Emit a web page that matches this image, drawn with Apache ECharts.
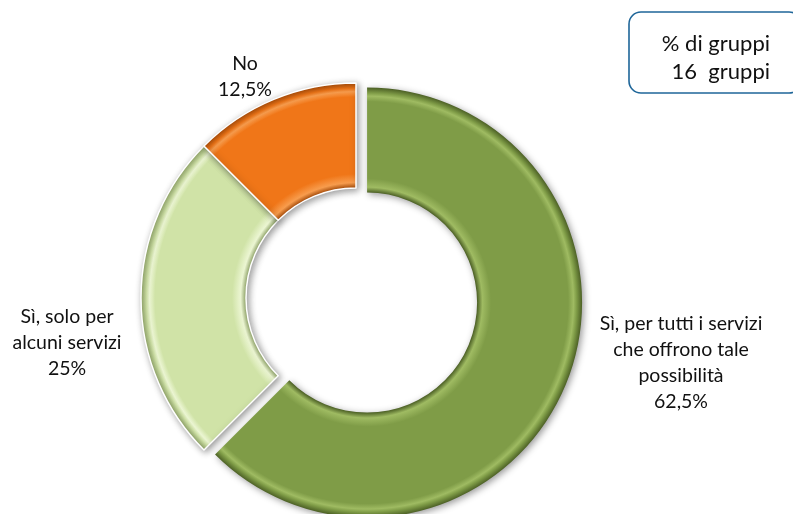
<!DOCTYPE html>
<html>
<head>
<meta charset="utf-8">
<script src="https://cdn.jsdelivr.net/npm/echarts@6/dist/echarts.min.js"></script>
<style>
  html, body { margin: 0; padding: 0; background: #fff; }
  #chart { width: 793px; height: 514px; }
</style>
</head>
<body>
<div id="chart"></div>
<script>
// Answer categories and their share of groups (%)
const categories = [
  'Sì, per tutti i servizi\nche offrono tale\npossibilità',
  'Sì, solo per\nalcuni servizi',
  'No'
];
const shares = [62.5, 25, 12.5];
const boxLines = ['% di gruppi', '16  gruppi'];

// Ring geometry
const CX = 356, CY = 298, R_IN = 110, R_OUT = 215;
const EXPLODE = 12;           // the first slice is pulled out of the ring
const rin = R_IN / R_OUT;

// Centre of the pulled-out slice, moved along its mid angle
const total = shares.reduce((a, b) => a + b, 0);
const midAngle = (shares[0] / total) * Math.PI; // clockwise from 12 o'clock
const CX2 = CX + EXPLODE * Math.sin(midAngle);
const CY2 = CY - EXPLODE * Math.cos(midAngle);

// Bevelled fill: darker rims at the inner and outer edges, a light line just inside the hole
function bevel(cx, cy, base, light, dark) {
  return new echarts.graphic.RadialGradient(cx, cy, R_OUT, [
    { offset: 0, color: dark },
    { offset: rin, color: dark },
    { offset: rin + 0.025, color: light },
    { offset: rin + 0.065, color: base },
    { offset: 0.935, color: base },
    { offset: 0.96, color: light },
    { offset: 0.975, color: base },
    { offset: 1, color: dark }
  ], true);
}

const fills = [
  bevel(CX2, CY2, '#7f9c47', '#9fbb62', '#4c6025'),
  bevel(CX, CY, '#d0e3a7', '#ecf6d3', '#93a86a'),
  bevel(CX, CY, '#f07618', '#f89d4e', '#a94c08')
];

// Where each label block is centred
const labelAnchors = [
  { x: 681, y: 363 },
  { x: 67, y: 343 },
  { x: 245, y: 77 }
];

const textFont = 'Lato, "Open Sans", sans-serif';
const sliceShadow = {
  shadowBlur: 7,
  shadowOffsetX: 2,
  shadowOffsetY: 2,
  shadowColor: 'rgba(0,0,0,0.4)'
};

const chart = echarts.init(document.getElementById('chart'), null, { renderer: 'canvas' });

chart.setOption({
  animation: false,
  backgroundColor: '#ffffff',
  graphic: [
    {
      type: 'rect',
      shape: { x: 629, y: 12, width: 172, height: 81, r: 12 },
      style: { fill: '#ffffff', stroke: '#1f6699', lineWidth: 1.6 }
    },
    {
      type: 'text',
      x: 770, y: 44,
      style: {
        text: boxLines[0], align: 'right', verticalAlign: 'middle',
        font: '22px ' + textFont, fill: '#111'
      }
    },
    {
      type: 'text',
      x: 770, y: 72,
      style: {
        text: boxLines[1], align: 'right', verticalAlign: 'middle',
        font: '22px ' + textFont, fill: '#111'
      }
    }
  ],
  series: [
    // Ring with the two smaller slices and all the labels
    {
      type: 'pie',
      center: [CX, CY],
      radius: [R_IN, R_OUT],
      startAngle: 90,
      clockwise: true,
      avoidLabelOverlap: false,
      itemStyle: Object.assign({ borderColor: '#ffffff', borderWidth: 1.5 }, sliceShadow),
      label: {
        show: true,
        position: 'outside',
        formatter: p => p.name + '\n' + String(p.value).replace('.', ',') + '%',
        fontFamily: textFont,
        fontSize: 19.5,
        lineHeight: 26,
        color: '#111',
        align: 'center'
      },
      labelLine: { show: false },
      labelLayout: p => ({
        x: labelAnchors[p.dataIndex].x,
        y: labelAnchors[p.dataIndex].y,
        align: 'center',
        verticalAlign: 'middle'
      }),
      emphasis: { disabled: true },
      data: shares.map((v, i) => ({
        name: categories[i],
        value: v,
        itemStyle: i === 0
          ? { color: 'rgba(0,0,0,0)', borderWidth: 0, shadowBlur: 0, shadowColor: 'rgba(0,0,0,0)' }
          : { color: fills[i] }
      }))
    },
    // The large slice, drawn pulled out along its mid angle
    {
      type: 'pie',
      center: [CX2, CY2],
      radius: [R_IN, R_OUT],
      startAngle: 90,
      clockwise: true,
      silent: true,
      itemStyle: Object.assign({ borderWidth: 0 }, sliceShadow),
      label: { show: false },
      labelLine: { show: false },
      emphasis: { disabled: true },
      data: shares.map((v, i) => ({
        name: categories[i],
        value: v,
        itemStyle: i === 0
          ? { color: fills[0] }
          : { color: 'rgba(0,0,0,0)', shadowBlur: 0, shadowColor: 'rgba(0,0,0,0)' }
      }))
    }
  ]
});
</script>
</body>
</html>
